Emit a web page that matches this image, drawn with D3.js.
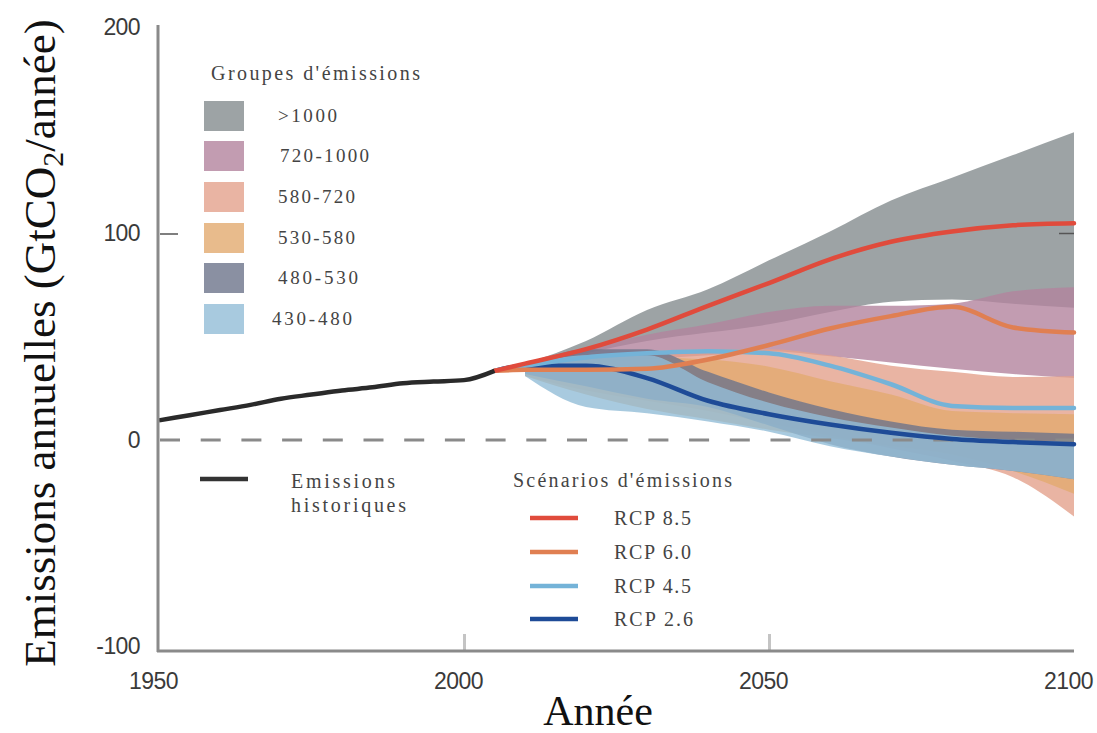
<!DOCTYPE html>
<html><head><meta charset="utf-8">
<script src="https://cdn.jsdelivr.net/npm/d3@7"></script>
<style>body{margin:0;background:#fff;overflow:hidden}</style>
</head><body><svg id="c" width="1097" height="733"></svg>
<script>
// ---------- data ----------
const histYears  = [1950,1955,1960,1965,1970,1975,1980,1985,1990,1995,2000,2005];
const histValues = [9.5,12,14.5,17,20,22,24,25.5,27.5,28.3,29,33.5];

const rcpYears = [2005,2010,2020,2030,2040,2050,2060,2070,2080,2090,2100];
const rcp85 = [33.5,37,44,53.5,65,76,87.5,96,101,104,105];
const rcp60 = [33.5,34,34,34.5,39,46,54,60,64.5,54.5,52];
const rcp45 = [33.5,36,40,42,43,42,36,27,16.5,15.5,15.5];
const rcp26 = [33.5,36,36,30,19,12.5,7.5,3.5,0.5,-1,-2];
const rcpLabels = ["RCP 8.5","RCP 6.0","RCP 4.5","RCP 2.6"];

const bandYears = [2010,2020,2030,2040,2050,2060,2070,2080,2090,2100];
const g1000Hi = [37,48,63,73,87,101,116,127,138,149];
const g1000Lo = [35,42,48,52,56,62,67,68,66,64];
const g720Hi  = [36.5,44,51,56,62,65,65,66,72,74];
const g720Lo  = [34,37,39,41,43,40.5,37.5,34.5,32,30];
const g580Hi  = [35,40,43,44,44,41,36,33,30.5,31];
const g580Lo  = [31,24,19,14,8,2,-4,-10,-18,-37];
const g530Hi  = [34,38,40,39,35.5,28.5,22,14,13,12.5];
const g530Lo  = [31,22,15,10,5,1,-3,-7,-15,-26];
const g480Hi  = [35,44,44,33,23,15,9,5,4,3];
const g480Lo  = [32,26,20,16,7,-2,-8,-12,-15,-19];
const g430Hi  = [36,41,41,28,18,11,6,2,0,-1];
const g430Lo  = [31,16,13,9,4,-3,-8,-12,-15,-19];
const groupLabels = [">1000","720-1000","580-720","530-580","480-530","430-480"];

const xTicks = [1950,2000,2050,2100];
const yTicks = [-100,0,100,200];

// ---------- styles ----------
const groupColors = ["#9da3a5","#c29cb1","#e9b4a3","#e8bb8c","#8a90a2","#a8cadf"];
const rcpColors = ["#e04b3c","#e07f52","#74b3d8","#1e4b97"];
const ALPHA = 0.8;
function fillFor(hex,a){const c=d3.rgb(hex);const f=v=>Math.max(0,Math.min(255,(v-255*(1-a))/a));return d3.rgb(f(c.r),f(c.g),f(c.b)).formatHex();}

const svg = d3.select("#c");
const x = d3.scaleLinear().domain([1950,2100]).range([159,1074]);
const y = d3.scaleLinear().domain([-100,200]).range([646.5,27]);

const bands = [
  [g1000Hi,g1000Lo],[g720Hi,g720Lo],[g580Hi,g580Lo],
  [g530Hi,g530Lo],[g480Hi,g480Lo],[g430Hi,g430Lo]
];
const area = d3.area().x(d=>x(d.year)).y0(d=>y(d.lo)).y1(d=>y(d.hi)).curve(d3.curveMonotoneX);
bands.forEach((b,i)=>{
  const data = bandYears.map((yr,k)=>({year:yr,hi:b[0][k],lo:b[1][k]}));
  svg.append("path").attr("d",area(data))
    .attr("fill",fillFor(groupColors[i],ALPHA)).attr("fill-opacity",ALPHA);
});

// zero dashed line
svg.append("line").attr("x1",x(1950)+1).attr("x2",x(2100)).attr("y1",y(0)).attr("y2",y(0))
  .attr("stroke","#8a8a8a").attr("stroke-width",3).attr("stroke-dasharray","20,20.7");

// lines
const line = d3.line().x(d=>d[0]).y(d=>d[1]).curve(d3.curveMonotoneX);
const rcpSeries = [rcp85,rcp60,rcp45,rcp26];
[3,2,1,0].forEach(i=>{
  svg.append("path").attr("d",line(rcpYears.map((yr,k)=>[x(yr),y(rcpSeries[i][k])])))
    .attr("fill","none").attr("stroke",rcpColors[i]).attr("stroke-width",4.5)
    .attr("stroke-linejoin","round").attr("stroke-linecap","round");
});
svg.append("path").attr("d",line(histYears.map((yr,k)=>[x(yr),y(histValues[k])])))
  .attr("fill","none").attr("stroke","#2a2a2a").attr("stroke-width",4.5);

// axes
const xAxis = d3.axisBottom(x).tickValues(xTicks).tickFormat(d=>String(d)).tickSizeInner(-17).tickSizeOuter(0).tickPadding(22);
const gx = svg.append("g").attr("transform","translate(0,651)").call(xAxis);
gx.select(".domain").remove();
gx.selectAll(".tick line").attr("stroke","#c4c4c4").attr("stroke-width",3)
  .attr("display",d=>(d===2000||d===2050)?null:"none");
gx.selectAll(".tick text").attr("dx",-6).attr("font-family","Liberation Sans, Arial, sans-serif")
  .attr("font-size",23).attr("fill","#3a3a3a").attr("letter-spacing",-0.6);

const yAxis = d3.axisLeft(y).tickValues(yTicks).tickFormat(d=>String(d)).tickSize(0).tickPadding(18);
const gy = svg.append("g").attr("transform","translate(158,0)").call(yAxis);
gy.select(".domain").remove();
gy.selectAll(".tick text").attr("font-family","Liberation Sans, Arial, sans-serif")
  .attr("font-size",23).attr("fill","#3a3a3a").attr("letter-spacing",-0.6);
gy.selectAll(".tick").filter(d=>d===100).append("line")
  .attr("x1",2).attr("x2",20).attr("stroke","#555").attr("stroke-width",1.5);

// axis lines
svg.append("line").attr("x1",158).attr("x2",158).attr("y1",y(200)-2).attr("y2",652)
  .attr("stroke","#8a8a8a").attr("stroke-width",3);
svg.append("line").attr("x1",157).attr("x2",x(2100)).attr("y1",651).attr("y2",651)
  .attr("stroke","#8a8a8a").attr("stroke-width",3);
svg.append("line").attr("x1",x(2100)-15).attr("x2",x(2100)).attr("y1",y(100)).attr("y2",y(100))
  .attr("stroke","#555").attr("stroke-width",1.5);

// axis titles
const serif = "Liberation Serif, Times New Roman, serif";
const yl = svg.append("text").attr("transform","translate(55,343) rotate(-90)")
  .attr("text-anchor","middle").attr("font-family",serif).attr("font-size",45).attr("fill","#111");
yl.append("tspan").text("Emissions annuelles (GtCO");
yl.append("tspan").attr("font-size",30).attr("dy",8).text("2");
yl.append("tspan").attr("dy",-8).text("/année)");
svg.append("text").attr("x",598).attr("y",725).attr("text-anchor","middle")
  .attr("font-family",serif).attr("font-size",42).attr("fill","#111").text("Année");

// legend: groups
const legendFill = "#444";
svg.append("text").attr("x",211).attr("y",80).attr("font-family",serif).attr("font-size",20)
  .attr("fill",legendFill).attr("textLength",209).attr("lengthAdjust","spacing").text("Groupes d'émissions");
const swY = [101,141,182,223,263,304];
const lblX = [278,280,278,278,278,272];
const lblLen = [59,89,77,77,80,80];
groupLabels.forEach((lab,i)=>{
  svg.append("rect").attr("x",204).attr("y",swY[i]).attr("width",40).attr("height",30)
    .attr("fill",groupColors[i]);
  svg.append("text").attr("x",lblX[i]).attr("y",swY[i]+21).attr("font-family",serif).attr("font-size",19)
    .attr("fill",legendFill).attr("textLength",lblLen[i]).attr("lengthAdjust","spacing").text(lab);
});

// legend: historical
svg.append("line").attr("x1",200).attr("x2",248).attr("y1",479).attr("y2",479)
  .attr("stroke","#333").attr("stroke-width",4.5);
svg.append("text").attr("x",291).attr("y",488).attr("font-family",serif).attr("font-size",20)
  .attr("fill",legendFill).attr("textLength",104).attr("lengthAdjust","spacing").text("Emissions");
svg.append("text").attr("x",291).attr("y",512).attr("font-family",serif).attr("font-size",20)
  .attr("fill",legendFill).attr("textLength",115).attr("lengthAdjust","spacing").text("historiques");

// legend: scenarios
svg.append("text").attr("x",513).attr("y",487).attr("font-family",serif).attr("font-size",20)
  .attr("fill",legendFill).attr("textLength",219).attr("lengthAdjust","spacing").text("Scénarios d'émissions");
const rcpLY = [518,552,586,619];
rcpLabels.forEach((lab,i)=>{
  svg.append("line").attr("x1",530).attr("x2",578).attr("y1",rcpLY[i]).attr("y2",rcpLY[i])
    .attr("stroke",rcpColors[i]).attr("stroke-width",4.5);
  svg.append("text").attr("x",614).attr("y",rcpLY[i]+7).attr("font-family",serif).attr("font-size",20)
    .attr("fill",legendFill).attr("textLength",i===3?79:77).attr("lengthAdjust","spacing").text(lab);
});
</script></body></html>
